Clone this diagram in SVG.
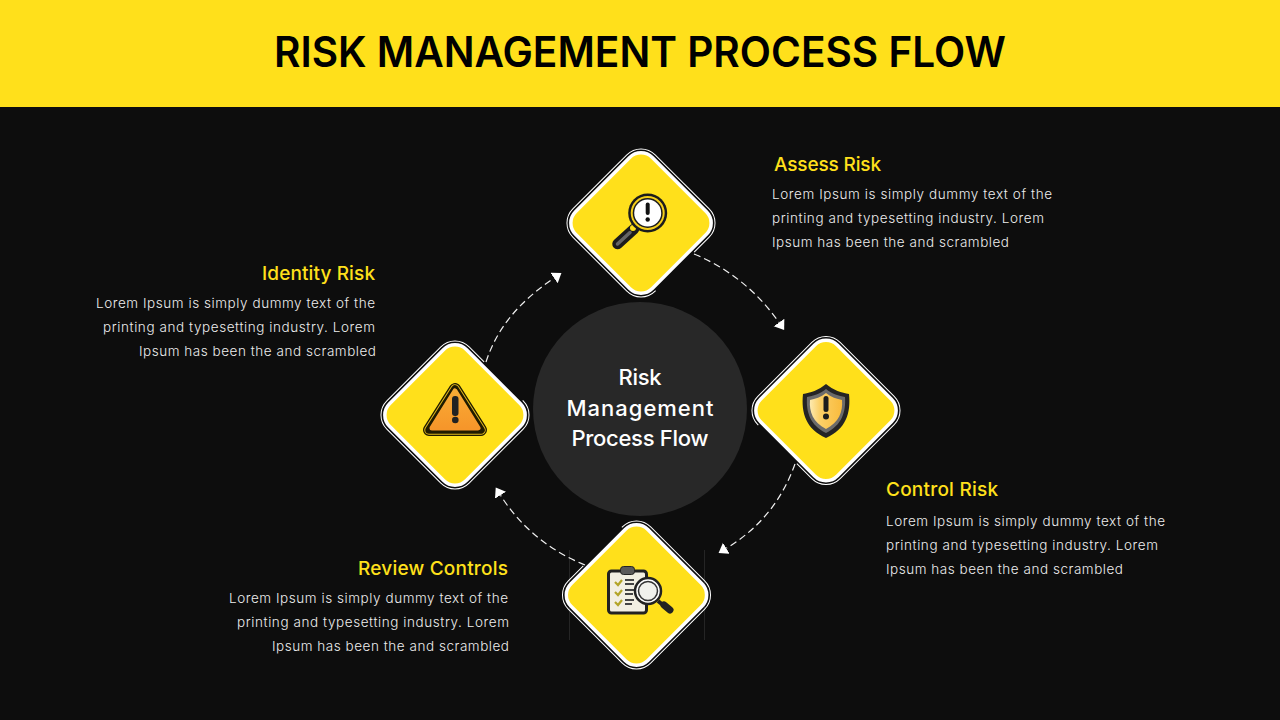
<svg xmlns="http://www.w3.org/2000/svg" width="1280" height="720" viewBox="0 0 1280 720">
<style>
.hd{font-family:Inter,"Liberation Sans",sans-serif;font-weight:500;font-size:19px;fill:#ffe01b}
.bd{font-family:Inter,"Liberation Sans",sans-serif;font-weight:300;font-size:13.5px;fill:#ececec}
.ct{font-family:Inter,"Liberation Sans",sans-serif;font-weight:500;font-size:22px;fill:#fff;text-anchor:middle}
.outer{fill:none;stroke:#fff;stroke-width:1}
.inner{fill:#ffe01b;stroke:#fff;stroke-width:3.5}
.con{fill:none;stroke:#f0f0f0;stroke-width:1.2;stroke-dasharray:7 4;marker-end:url(#tri)}
</style>
<defs>
<marker id="tri" markerUnits="userSpaceOnUse" markerWidth="10" markerHeight="14" refX="0" refY="6.5" orient="auto"><path d="M0 0L9 6.5L0 13Z" fill="#fff"/></marker>
<path id="out" class="outer" d="M58.200 37.500V38.200A20 20 0 0 1 38.200 58.200H-38.200A20 20 0 0 1 -58.200 38.200V-38.200A20 20 0 0 1 -38.200 -58.200H38.200A20 20 0 0 1 58.200 -38.200V-17"/>
<rect id="dia" class="inner" x="-54.300" y="-54.300" width="108.600" height="108.600" rx="16" transform="rotate(45)"/>
<linearGradient id="org" x1="0" y1="0" x2="0" y2="1"><stop offset="0" stop-color="#f9ab35"/><stop offset="1" stop-color="#f6962a"/></linearGradient>
<linearGradient id="shd" x1="0" y1="0" x2="1" y2="0"><stop offset="0" stop-color="#fdeab0"/><stop offset=".3" stop-color="#fbd069"/><stop offset="1" stop-color="#f9bb3c"/></linearGradient>
</defs>
<rect width="1280" height="720" fill="#0d0d0d"/>
<rect width="1280" height="107" fill="#ffe01b"/>
<text x="640" y="67" text-anchor="middle" textLength="732" lengthAdjust="spacingAndGlyphs" font-family="Inter,'Liberation Sans',sans-serif" font-weight="600" font-size="42" fill="#000">RISK MANAGEMENT PROCESS FLOW</text>
<g id="center"><circle cx="640" cy="409" r="107" fill="#282828"/><text class="ct" x="640" y="385" textLength="43">Risk</text><text class="ct" x="640" y="416" textLength="147">Management</text><text class="ct" x="640" y="446" textLength="137">Process Flow</text></g>
<g id="connectors">
<path class="con" d="M694 254C728 268 757 291 779 322.500"/>
<path class="con" d="M795 464C782 500 760 528 726.300 548.300"/>
<path class="con" d="M585 565C552 552 521 528 500.500 495.200"/>
<path class="con" d="M486 362C498 325 522 300 554 278"/>
</g>
<g id="assess"><use href="#out" transform="translate(641 223) rotate(45)"/><use href="#dia" x="641" y="223"/>
<path d="M617.500 244L634 229" stroke="#1c1c1c" stroke-width="10.500" stroke-linecap="round"/><path d="M617.500 244L630 232.500" stroke="#666" stroke-width="3.500" stroke-linecap="round"/><circle cx="633" cy="228" r="3" fill="#ffe01b"/>
<circle cx="647.700" cy="213" r="19.500" fill="#1c1c1c"/><circle cx="647.700" cy="213" r="17" fill="#f5cf1a"/><circle cx="647.700" cy="213" r="15" fill="#1c1c1c"/><circle cx="647.700" cy="213" r="13.500" fill="#fff"/>
<rect x="645.700" y="202.500" width="4" height="12.500" rx="2" fill="#111"/><circle cx="647.700" cy="219.500" r="2.200" fill="#111"/></g>
<g id="control"><use href="#out" transform="translate(826 410.500) rotate(135)"/><use href="#dia" x="826" y="410.500"/>
<path d="M826 384C833 390 842 393 849 394C851 413 846 429 826 438C806 429 801 413 803 394C810 393 819 390 826 384Z" fill="#242424"/>
<path d="M826 389C832 394 839 396 845 397C846 412 842 425 826 433C810 425 806 412 807 397C813 396 820 394 826 389Z" fill="#6b6b6b"/>
<path d="M826 393C831 397 837 399 842 400C843 412 839 422 826 429C813 422 809 412 810 400C815 399 821 397 826 393Z" fill="url(#shd)"/>
<rect x="823.500" y="396" width="5" height="16" rx="2.500" fill="#1c1c1c"/><circle cx="826" cy="416.500" r="3" fill="#1c1c1c"/></g>
<g id="identity"><use href="#out" transform="translate(455 415) rotate(315)"/><use href="#dia" x="455" y="415"/>
<g stroke-linejoin="round"><path d="M455 389L481 430H429Z" fill="#1f1a00" stroke="#1f1a00" stroke-width="12"/><path d="M455 389L481 430H429Z" fill="#e0b81c" stroke="#e0b81c" stroke-width="9.500"/><path d="M455 389L481 430H429Z" fill="#1f1a00" stroke="#1f1a00" stroke-width="7.500"/><path d="M455 391L478 428H432Z" fill="url(#org)" stroke="url(#org)" stroke-width="5"/></g>
<rect x="452" y="396" width="6.500" height="20" rx="3" fill="#222"/><circle cx="455.300" cy="420" r="3.300" fill="#222"/></g>
<g id="review"><use href="#out" transform="translate(636.500 595) rotate(225)"/><use href="#dia" x="636.500" y="595"/>
<rect x="608.500" y="571" width="38" height="42" rx="3" fill="#f2efe2" stroke="#222" stroke-width="3"/><rect x="620.500" y="566.500" width="14" height="8" rx="3" fill="#5a5a5a" stroke="#222"/>
<g stroke="#b3a528" stroke-width="2.200" fill="none"><path d="M615 582l3 3 4-5M615 592l3 3 4-5M615 602l3 3 4-5"/></g>
<g stroke="#444" stroke-width="1.800"><path d="M625 580h9M625 584h9M625 590h9M625 594h8M625 600h9M625 604h7"/></g>
<path d="M658 601L663 605" stroke="#222" stroke-width="4"/><path d="M664 605L670 610" stroke="#222" stroke-width="7" stroke-linecap="round"/>
<circle cx="648" cy="591" r="13" fill="#fff" stroke="#222" stroke-width="2.500"/><circle cx="648" cy="591" r="9.500" fill="#f1f1ec" stroke="#333" stroke-width="1.500"/></g>
<path d="M569.500 550V640M704.500 550V640" stroke="#fff" stroke-opacity=".1"/>
<g id="lbl-assess"><text class="hd" x="774" y="171" textLength="107">Assess Risk</text><text class="bd" x="772" y="199" textLength="280">Lorem Ipsum is simply dummy text of the</text><text class="bd" x="772" y="223" textLength="272">printing and typesetting industry. Lorem</text><text class="bd" x="772" y="247" textLength="237">Ipsum has been the and scrambled</text></g>
<g id="lbl-control"><text class="hd" x="886" y="496" textLength="112">Control Risk</text><text class="bd" x="886" y="526" textLength="279">Lorem Ipsum is simply dummy text of the</text><text class="bd" x="886" y="550" textLength="272">printing and typesetting industry. Lorem</text><text class="bd" x="886" y="574" textLength="237">Ipsum has been the and scrambled</text></g>
<g id="lbl-identity" text-anchor="end"><text class="hd" x="375" y="280" textLength="113">Identity Risk</text><text class="bd" x="375" y="308" textLength="279">Lorem Ipsum is simply dummy text of the</text><text class="bd" x="375" y="332" textLength="272">printing and typesetting industry. Lorem</text><text class="bd" x="376" y="356" textLength="237">Ipsum has been the and scrambled</text></g>
<g id="lbl-review" text-anchor="end"><text class="hd" x="508" y="575" textLength="150">Review Controls</text><text class="bd" x="508" y="603" textLength="279">Lorem Ipsum is simply dummy text of the</text><text class="bd" x="509" y="627" textLength="272">printing and typesetting industry. Lorem</text><text class="bd" x="509" y="651" textLength="237">Ipsum has been the and scrambled</text></g>
</svg>
